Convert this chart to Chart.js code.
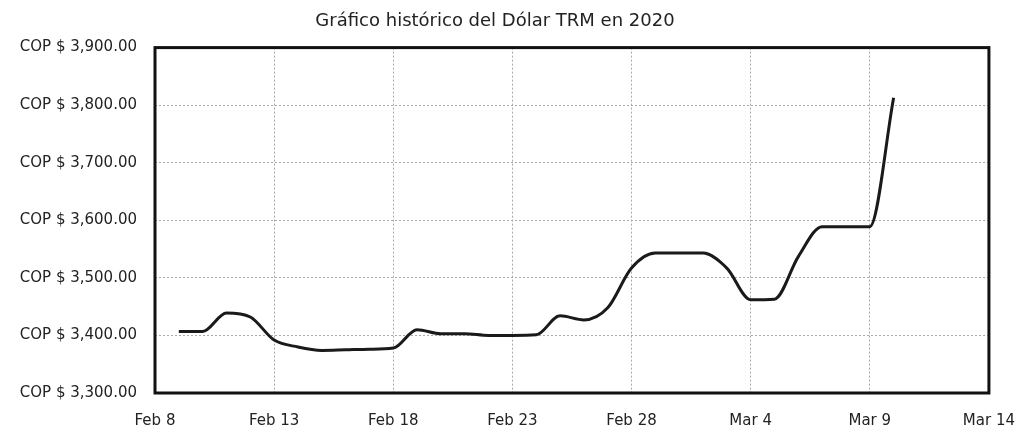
<!DOCTYPE html>
<html>
<head>
<meta charset="utf-8">
<script src="https://cdn.jsdelivr.net/npm/chart.js@4.4.1/dist/chart.umd.min.js"></script>
<style>
    html, body { margin: 0; padding: 0; background: #fff; }
    #wrap { width: 1034px; height: 433px; }
</style>
</head>
<body>
<div id="wrap"><canvas id="trmChart"></canvas></div>
<script>
// days shown on the x axis, Feb 8 -> Mar 14 2020
const days = [
    'Feb 8', 'Feb 9', 'Feb 10', 'Feb 11', 'Feb 12', 'Feb 13', 'Feb 14', 'Feb 15', 'Feb 16', 'Feb 17',
    'Feb 18', 'Feb 19', 'Feb 20', 'Feb 21', 'Feb 22', 'Feb 23', 'Feb 24', 'Feb 25', 'Feb 26', 'Feb 27',
    'Feb 28', 'Feb 29', 'Mar 1', 'Mar 2', 'Mar 3', 'Mar 4', 'Mar 5', 'Mar 6', 'Mar 7', 'Mar 8',
    'Mar 9', 'Mar 10', 'Mar 11', 'Mar 12', 'Mar 13', 'Mar 14'
];
// TRM value per day (null = no data)
const trm = [
    null, 3407, 3407, 3439, 3432, 3392, 3380, 3374, 3375, 3376,
    3378, 3410, 3403, 3403, 3400, 3400, 3401, 3434, 3427, 3448,
    3517, 3543, 3543, 3543, 3517, 3462, 3463, 3537, 3589, 3589,
    3589, 3813, null, null, null, null
];
const yTicks = [3300, 3400, 3500, 3600, 3700, 3800, 3900];

const points = trm.map((v, i) => ({ x: i, y: v }));

const frame = {
    id: 'frame',
    afterDraw(chart) {
        const { ctx, chartArea: a } = chart;
        ctx.save();
        ctx.strokeStyle = '#111';
        ctx.lineWidth = 3;
        ctx.strokeRect(a.left, a.top, a.right - a.left, a.bottom - a.top);
        ctx.restore();
    }
};

const ctx = document.getElementById('trmChart');
new Chart(ctx, {
    type: 'line',
    data: {
        datasets: [{
            data: points,
            borderColor: '#1a1a1a',
            borderWidth: 3,
            pointRadius: 0,
            cubicInterpolationMode: 'monotone',
            spanGaps: false
        }]
    },
    options: {
        responsive: true,
        maintainAspectRatio: false,
        animation: false,
        layout: { padding: { left: 0, right: 44, top: 0, bottom: 3 } },
        plugins: {
            legend: false,
            tooltip: { enabled: false },
            title: {
                display: true,
                text: 'Gráfico histórico del Dólar TRM en 2020',
                color: '#222',
                font: { family: 'DejaVu Sans', size: 18, weight: 'normal' },
                padding: { top: 11, bottom: 15 }
            }
        },
        scales: {
            x: {
                type: 'linear',
                min: 0,
                max: days.length - 1,
                afterFit: s => { s.height = 37; },
                grid: { color: '#a8a8a8', drawTicks: false, lineWidth: 1 },
                border: { display: false, dash: [2, 2] },
                ticks: {
                    stepSize: 5,
                    padding: 19,
                    color: '#222',
                    font: { family: 'DejaVu Sans', size: 15 },
                    callback: v => days[v]
                }
            },
            y: {
                min: 3300,
                max: 3900,
                afterBuildTicks: s => { s.ticks = yTicks.map(v => ({ value: v })); },
                afterFit: s => { s.width = 155; },
                grid: { color: '#a8a8a8', drawTicks: false, lineWidth: 1 },
                border: { display: false, dash: [2, 2] },
                ticks: {
                    padding: 18,
                    color: '#222',
                    font: { family: 'DejaVu Sans', size: 15 },
                    callback: v => 'COP $ ' + v.toLocaleString('en-US', { minimumFractionDigits: 2 })
                }
            }
        }
    },
    plugins: [frame]
});
</script>
</body>
</html>
